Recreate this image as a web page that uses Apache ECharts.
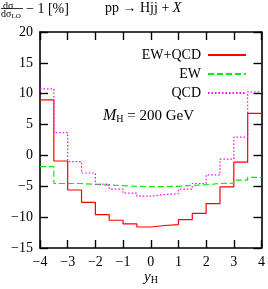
<!DOCTYPE html>
<html><head><meta charset="utf-8">
<script src="https://cdn.jsdelivr.net/npm/echarts@6/dist/echarts.min.js"></script>
<style>html,body{margin:0;padding:0;background:#fff}#c{width:268px;height:289px}</style>
</head><body><div id="c"></div>
<script>
const binEdges = [-4,-3.5,-3,-2.5,-2,-1.5,-1,-0.5,0,0.5,1,1.5,2,2.5,3,3.5,4];
const ewqcd = [9.0,-0.9,-5.6,-7.6,-9.6,-10.5,-11.1,-11.6,-11.35,-11.2,-10.4,-9.4,-7.8,-5.1,-1.1,6.8];
const ew    = [-1.8,-4.55,-4.55,-4.7,-4.8,-4.9,-5.0,-5.05,-5.05,-5.0,-4.85,-4.75,-4.55,-4.5,-4.0,-3.55];
const qcd   = [10.8,3.7,-1.0,-2.85,-4.65,-5.45,-6.1,-6.6,-6.35,-6.2,-5.45,-4.55,-3.15,-0.6,2.95,10.3];
const yTicks = [-15,-10,-5,0,5,10,15,20];
const xTicks = [-4,-3,-2,-1,0,1,2,3,4];

function stepData(vals){
  const d = vals.map((v,i)=>[binEdges[i], v]);
  d.push([binEdges[binEdges.length-1], vals[vals.length-1]]);
  return d;
}
const serif = 'Liberation Serif';
const fmt = v => String(v).replace('-', '\u2212');
const ch = echarts.init(document.getElementById('c'));
const axLine = {show:true, onZero:false, lineStyle:{color:'#000', width:1.6}};
const tick = {show:true, inside:true, length:8, lineStyle:{color:'#000', width:1.4}};
ch.setOption({
  animation:false,
  grid:{left:40, right:5, top:32, bottom:41},
  xAxis:[
    {type:'value', min:xTicks[0], max:xTicks[xTicks.length-1], interval:1, position:'bottom',
     axisLine:axLine, axisTick:tick, splitLine:{show:false},
     axisLabel:{formatter:fmt, fontFamily:serif, fontSize:14, color:'#000', margin:7}},
    {type:'value', min:xTicks[0], max:xTicks[xTicks.length-1], interval:1, position:'top',
     axisLine:axLine, axisTick:tick, splitLine:{show:false}, axisLabel:{show:false}}
  ],
  yAxis:[
    {type:'value', min:yTicks[0], max:yTicks[yTicks.length-1], interval:5, position:'left',
     axisLine:axLine, axisTick:tick, splitLine:{show:false},
     axisLabel:{formatter:fmt, fontFamily:serif, fontSize:14, color:'#000', margin:7}},
    {type:'value', min:yTicks[0], max:yTicks[yTicks.length-1], interval:5, position:'right',
     axisLine:axLine, axisTick:tick, splitLine:{show:false}, axisLabel:{show:false}}
  ],
  legend:{
    orient:'vertical', right:16, top:43, align:'right', itemWidth:38, itemHeight:8, itemGap:5,
    itemStyle:{opacity:0},
    textStyle:{fontFamily:serif, fontSize:14, color:'#000', padding:[0,2,0,0]},
    data:['EW+QCD','EW','QCD']
  },
  series:[
    {name:'EW+QCD', type:'line', step:'end', data:stepData(ewqcd), symbol:'none',
     lineStyle:{color:'#ff0000', width:1.2}, itemStyle:{color:'#ff0000'}},
    {name:'EW', type:'line', step:'end', data:stepData(ew), symbol:'none',
     lineStyle:{color:'#00ee00', width:1.2, type:[6,3]}, itemStyle:{color:'#00ee00'}},
    {name:'QCD', type:'line', step:'end', data:stepData(qcd), symbol:'none',
     lineStyle:{color:'#ff00ff', width:1.2, type:[1.5,2]}, itemStyle:{color:'#ff00ff'}}
  ],
  graphic:[
    {type:'text', left:3, top:1, style:{text:'d\u03c3', font:'10px "Liberation Serif"', fill:'#000'}},
    {type:'line', shape:{x1:1, y1:8.5, x2:23, y2:8.5}, style:{stroke:'#000', lineWidth:0.8}},
    {type:'text', left:1, top:9, style:{text:'{a|d\u03c3}{b|LO}', rich:{a:{font:'10px "Liberation Serif"', fill:'#000'}, b:{font:'7px "Liberation Serif"', fill:'#000', padding:[4,0,0,0]}}}},
    {type:'text', left:26, top:2, style:{text:'\u2212 1 [%]', font:'14px "Liberation Serif"', fill:'#000'}},
    {type:'text', left:105, top:1, style:{text:'pp \u2192 Hjj + {i|X}', font:'14px "Liberation Serif"', fill:'#000', rich:{i:{font:'italic 14px "Liberation Serif"', fill:'#000'}}}},
    {type:'text', left:103, top:108, style:{text:'{m|M}{s|H}{n| = 200 GeV}', rich:{m:{font:'italic 16px "Liberation Serif"', fill:'#000'}, s:{font:'10px "Liberation Serif"', fill:'#000', padding:[6,0,0,0]}, n:{font:'15px "Liberation Serif"', fill:'#000'}}}},
    {type:'text', left:144, top:270, style:{text:'{m|y}{s|H}', rich:{m:{font:'italic 15px "Liberation Serif"', fill:'#000'}, s:{font:'10px "Liberation Serif"', fill:'#000', padding:[6,0,0,0]}}}}
  ]
});
</script></body></html>
